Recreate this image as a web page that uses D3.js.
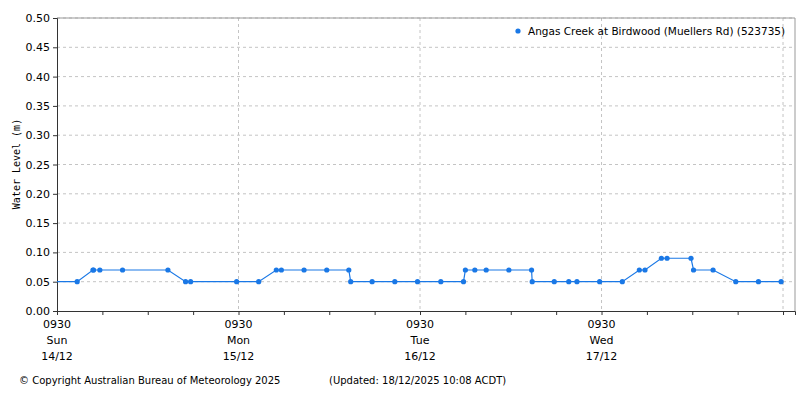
<!DOCTYPE html>
<html><head><meta charset="utf-8">
<script src="https://cdn.jsdelivr.net/npm/d3@7"></script>
<style>
body{margin:0;background:#fff;}
text{font-family:"DejaVu Sans",sans-serif;font-size:11px;fill:#000;}
</style></head>
<body><svg id="chart" width="800" height="400"></svg>
<script>
'use strict';
//Readings (local time, metres).
const times = ['2025-12-14T12:10','2025-12-14T14:15','2025-12-14T14:20','2025-12-14T15:10','2025-12-14T18:10',
	'2025-12-15T00:10','2025-12-15T02:30','2025-12-15T03:10','2025-12-15T09:15','2025-12-15T12:10',
	'2025-12-15T14:30','2025-12-15T15:10','2025-12-15T18:10','2025-12-15T21:10','2025-12-16T00:05',
	'2025-12-16T00:20','2025-12-16T03:10','2025-12-16T06:10','2025-12-16T09:10','2025-12-16T12:15',
	'2025-12-16T15:15','2025-12-16T15:30','2025-12-16T16:45','2025-12-16T18:15','2025-12-16T21:15',
	'2025-12-17T00:15','2025-12-17T00:20','2025-12-17T03:15','2025-12-17T05:10','2025-12-17T06:15',
	'2025-12-17T09:15','2025-12-17T12:15','2025-12-17T14:30','2025-12-17T15:15','2025-12-17T17:25',
	'2025-12-17T18:10','2025-12-17T21:20','2025-12-17T21:40','2025-12-18T00:15','2025-12-18T03:15',
	'2025-12-18T06:15','2025-12-18T09:15'];
const levels = [0.05,0.07,0.07,0.07,0.07, 0.07,0.05,0.05,0.05,0.05, 0.07,0.07,0.07,0.07,0.07,
	0.05,0.05,0.05,0.05,0.05, 0.05,0.07,0.07,0.07,0.07, 0.07,0.05,0.05,0.05,0.05,
	0.05,0.05,0.07,0.07,0.09, 0.09,0.09,0.07,0.07,0.05, 0.05,0.05];
const dayTicks = ['2025-12-14T09:30','2025-12-15T09:30','2025-12-16T09:30','2025-12-17T09:30'];
const dayNames = ['Sun','Mon','Tue','Wed'];
const dayDates = ['14/12','15/12','16/12','17/12'];
const yTicks = [0,0.05,0.1,0.15,0.2,0.25,0.3,0.35,0.4,0.45,0.5];
const seriesName = 'Angas Creek at Birdwood (Muellers Rd) (523735)';

const parse = d3.timeParse('%Y-%m-%dT%H:%M');
const data = times.map((t, i) => ({t: parse(t), v: levels[i]}));
const svg = d3.select('#chart');
const m = {l: 57, r: 795, t: 18, b: 311};
const x = d3.scaleTime().domain([parse('2025-12-14T09:30'), parse('2025-12-18T11:05')]).range([m.l, m.r]);
const y = d3.scaleLinear().domain([0, 0.5]).range([m.b, m.t]);
const col = '#1a78e6';

//Grid.
const grid = svg.append('g').attr('stroke', '#c4c4c4').attr('stroke-dasharray', '3,3');
yTicks.slice(1).forEach(v => grid.append('line').attr('x1', m.l).attr('x2', m.r).attr('y1', y(v)).attr('y2', y(v)));
const gridDays = dayTicks.concat(['2025-12-18T09:30']).map(parse);
gridDays.slice(1).forEach(d => grid.append('line').attr('x1', x(d)).attr('x2', x(d)).attr('y1', m.t).attr('y2', m.b));
svg.append('path').attr('d', `M${m.l},${m.t}H${m.r}V${m.b}`).attr('fill', 'none').attr('stroke', '#999');

//Axes.
const yAxis = svg.append('g').attr('transform', `translate(${m.l},0)`)
	.call(d3.axisLeft(y).tickValues(yTicks).tickFormat(d3.format('.2f')).tickSize(4));
const xAxis = svg.append('g').attr('transform', `translate(0,${m.b})`)
	.call(d3.axisBottom(x).tickValues(d3.range(17).map(i => d3.timeHour.offset(parse('2025-12-14T09:30'), i * 6))).tickFormat('').tickSize(4));
[yAxis, xAxis].forEach(a => {
	a.select('.domain').attr('stroke', '#333');
	a.selectAll('.tick line').attr('stroke', '#333');
	a.selectAll('text').style('font-family', '"DejaVu Sans",sans-serif').style('font-size', '11px').attr('fill', '#000');
});
dayTicks.map(parse).forEach((d, i) => {
	const t = svg.append('text').attr('x', x(d)).attr('text-anchor', 'middle');
	t.append('tspan').attr('x', x(d)).attr('y', 328).text('0930');
	t.append('tspan').attr('x', x(d)).attr('y', 344).text(dayNames[i]);
	t.append('tspan').attr('x', x(d)).attr('y', 360).text(dayDates[i]);
});
svg.append('text').attr('transform', 'translate(20,164) rotate(-90)').attr('text-anchor', 'middle')
	.style('font-family', '"DejaVu Sans Mono",monospace').style('font-size', '10px').text('Water Level (m)');

//Series.
const lineData = [{t: x.domain()[0], v: levels[0]}].concat(data);
svg.append('path').datum(lineData).attr('fill', 'none').attr('stroke', col).attr('stroke-width', 1.2)
	.attr('d', d3.line().x(d => x(d.t)).y(d => y(d.v)));
svg.selectAll('circle.pt').data(data).join('circle').attr('class', 'pt')
	.attr('cx', d => x(d.t)).attr('cy', d => y(d.v)).attr('r', 2.6).attr('fill', col);

//Legend.
svg.append('circle').attr('cx', 518).attr('cy', 31).attr('r', 2.6).attr('fill', col);
svg.append('text').attr('x', 528).attr('y', 35).style('font-size', '10.5px').text(seriesName);

//Footer.
svg.append('text').attr('x', 19).attr('y', 384).style('font-size', '10px').text('© Copyright Australian Bureau of Meteorology 2025');
svg.append('text').attr('x', 329).attr('y', 384).style('font-size', '10px').text('(Updated: 18/12/2025 10:08 ACDT)');
</script></body></html>
